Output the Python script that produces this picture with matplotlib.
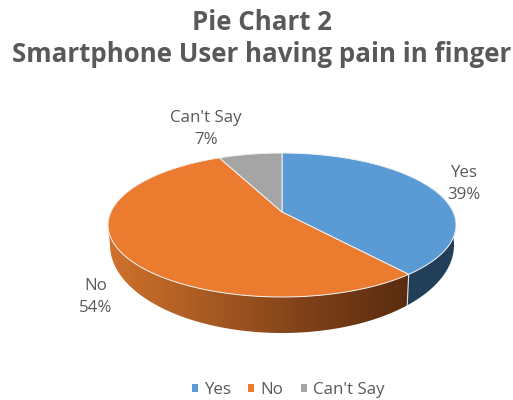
import numpy as np
import matplotlib.pyplot as plt
from matplotlib.colors import LinearSegmentedColormap
from matplotlib.patches import Patch, Polygon

# slices, clockwise from 12 o'clock
labels = ['Yes', 'No', "Can't Say"]
shares = [39, 54, 7]
colors = ['#5B9BD5', '#EA7B2F', '#A5A5A5']
title_lines = ['Pie Chart 2', 'Smartphone User having pain in finger']

text_gray = '#595959'

plt.rcParams['font.family'] = ['Open Sans', 'DejaVu Sans']

fig = plt.figure(figsize=(5.13, 4.0), dpi=100)
ax = fig.add_axes([0, 0, 1, 1])
ax.set_xlim(0, 513)
ax.set_ylim(400, 0)
ax.axis('off')

# top disc and base disc of the 3D pie, base looks rounder from this viewpoint
TOP = (282, 225, 174, 72)
BASE = (282, 245, 172, 88)
TILT = 0.18


def rim(theta, disc):
    # perspective projection of a unit circle point, theta clockwise from top
    cx, cy, a, b = disc
    u, v = np.sin(theta), np.cos(theta)
    den = 1 + TILT * v
    px = u * np.sqrt(1 - TILT ** 2) / den
    py = (v + TILT) / den
    return cx + a * px, cy - b * py


def arc(start, end, disc):
    return np.column_stack(rim(np.linspace(start, end, 120), disc))


edges = 2 * np.pi * np.cumsum([0] + shares) / sum(shares)
left_side = 2 * np.pi - np.arccos(-TILT)  # where the rim turns round on the left

# side wall under Yes
wall = np.vstack([arc(edges[0] + 1.2, edges[1], TOP), arc(edges[1], edges[0] + 1.2, BASE)])
ax.add_patch(Polygon(wall, closed=True, fc='#223F59', ec='none', zorder=1))

# side wall under No, shaded left to right
wall = np.vstack([arc(edges[1], left_side, TOP), arc(left_side, edges[1], BASE)])
shade = LinearSegmentedColormap.from_list('shade', ['#D0722C', '#A85A22', '#7E4018', '#5A2C0F'])
clip = Polygon(wall, closed=True, fc='none', ec='none', transform=ax.transData)
ax.add_patch(clip)
img = ax.imshow(np.linspace(0, 1, 256).reshape(1, -1), cmap=shade, aspect='auto',
                extent=(wall[:, 0].min(), wall[:, 0].max(), 340, 200), zorder=1)
img.set_clip_path(clip)
ax.set_xlim(0, 513)
ax.set_ylim(400, 0)

# thin light line where the two walls meet
x0, y0 = rim(edges[1], TOP)
x1, y1 = rim(edges[1], BASE)
ax.plot([x0, x1], [y0, y1], color='#E4E4E4', lw=0.8, zorder=2)

# top faces
apex = (282, 225 - 72 * TILT)
for i in range(3):
    face = np.vstack([[apex], arc(edges[i], edges[i + 1], TOP)])
    ax.add_patch(Polygon(face, closed=True, fc=colors[i], ec='#F2F2F2', lw=0.7, zorder=3))

# data labels
label_pos = [(464, 184), (96, 297), (206, 129)]
for name, val, (x, y) in zip(labels, shares, label_pos):
    ax.text(x, y, f'{name}\n{val}%', ha='center', va='center', fontsize=12.2,
            color=text_gray, linespacing=1.42, zorder=4)

# title
for line, y in zip(title_lines, [22, 54]):
    ax.text(262, y, line, ha='center', va='center', fontsize=18.6, fontweight='bold',
            color=text_gray)

# legend along the bottom
handles = [Patch(fc=c, ec='none') for c in colors]
ax.legend(handles, labels, ncol=3, frameon=False, loc='center', bbox_to_anchor=(288, 390),
          bbox_transform=ax.transData, fontsize=12.2, labelcolor=text_gray,
          handlelength=0.35, handleheight=0.35, handletextpad=0.35, columnspacing=1.05)

fig.savefig('out.png', dpi=100)
